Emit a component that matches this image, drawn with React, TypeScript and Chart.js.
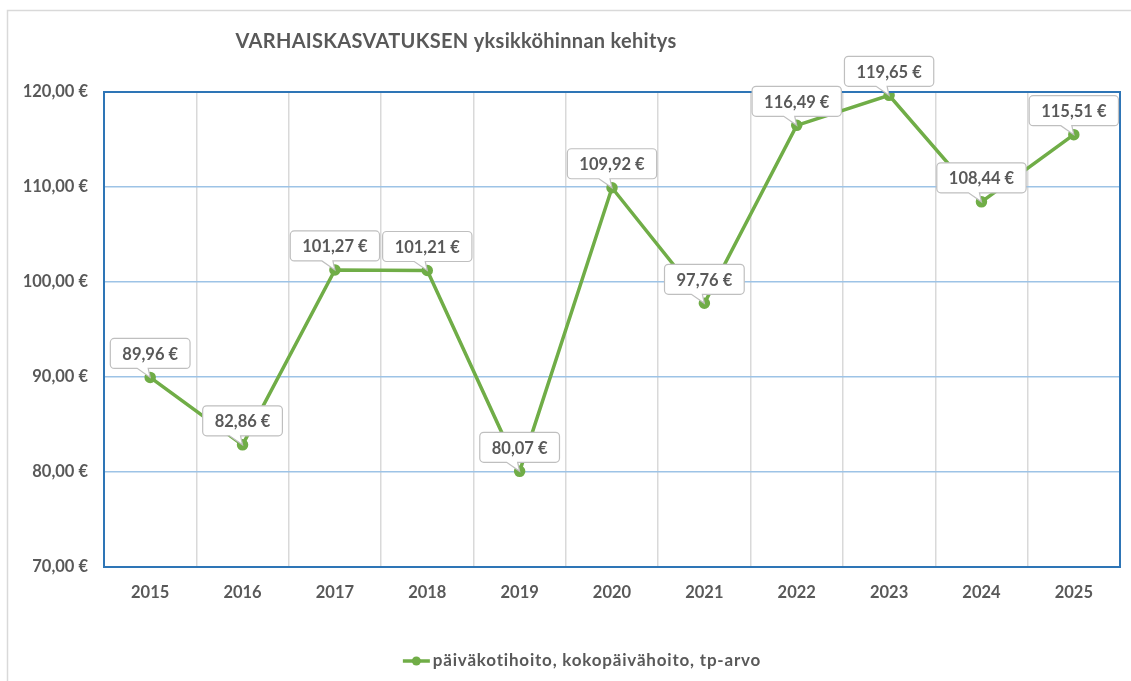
import React, { useEffect, useRef } from "react";
import { Chart, registerables } from "chart.js";

Chart.register(...registerables);

const years = ["2015", "2016", "2017", "2018", "2019", "2020", "2021", "2022", "2023", "2024", "2025"];
const unitPrices = [89.96, 82.86, 101.27, 101.21, 80.07, 109.92, 97.76, 116.49, 119.65, 108.44, 115.51];
const seriesName = "päiväkotihoito, kokopäivähoito, tp-arvo";
const chartTitle = "VARHAISKASVATUKSEN yksikköhinnan kehitys";

const FONT = "Lato, 'Open Sans', sans-serif";
const TEXT = "#595959";
const GREEN = "#70AD47";
const BLUE = "#2E75B6";

const fmt = (v: number) => v.toFixed(2).replace(".", ",") + " €";

const customPlugin = {
  id: "custom",
  beforeDraw(chart: any) {
    const ctx = chart.ctx;
    ctx.save();
    ctx.fillStyle = "#ffffff";
    ctx.fillRect(0, 0, chart.width, chart.height);
    ctx.strokeStyle = "#D9D9D9";
    ctx.lineWidth = 1.5;
    ctx.strokeRect(7.5, 10.5, chart.width + 20, chart.height + 20);
    ctx.restore();
  },
  afterDatasetsDraw(chart: any) {
    const ctx = chart.ctx;
    const ca = chart.chartArea;
    ctx.save();
    ctx.strokeStyle = BLUE;
    ctx.lineWidth = 2;
    ctx.strokeRect(ca.left, ca.top, ca.right - ca.left, ca.bottom - ca.top);
    ctx.restore();
  },
  afterDraw(chart: any) {
    const ctx = chart.ctx;
    ctx.save();
    // title
    ctx.fillStyle = TEXT;
    ctx.font = `bold 20px ${FONT}`;
    ctx.letterSpacing = "0.3px";
    ctx.textAlign = "center";
    ctx.textBaseline = "middle";
    ctx.fillText(chartTitle, 456, 42);
    ctx.letterSpacing = "0px";

    // callout labels
    const meta = chart.getDatasetMeta(0);
    ctx.font = `bold 16.5px ${FONT}`;
    meta.data.forEach((pt: any, i: number) => {
      const text = fmt(chart.data.datasets[0].data[i]);
      const w = ctx.measureText(text).width + 24;
      const h = 30;
      const px = pt.x;
      const py = pt.y;
      const cx = px;
      const bottom = py - 9;
      const top = bottom - h;
      const left = cx - w / 2;
      const r = 4;
      ctx.beginPath();
      ctx.moveTo(left + r, top);
      ctx.lineTo(left + w - r, top);
      ctx.arcTo(left + w, top, left + w, top + r, r);
      ctx.lineTo(left + w, bottom - r);
      ctx.arcTo(left + w, bottom, left + w - r, bottom, r);
      ctx.lineTo(px - 2, bottom);
      ctx.lineTo(px, py);
      ctx.lineTo(px - 13, bottom);
      ctx.lineTo(left + r, bottom);
      ctx.arcTo(left, bottom, left, bottom - r, r);
      ctx.lineTo(left, top + r);
      ctx.arcTo(left, top, left + r, top, r);
      ctx.closePath();
      ctx.fillStyle = "#ffffff";
      ctx.fill();
      ctx.strokeStyle = "#BFBFBF";
      ctx.lineWidth = 1.2;
      ctx.stroke();
      ctx.fillStyle = TEXT;
      ctx.textAlign = "center";
      ctx.textBaseline = "middle";
      ctx.fillText(text, cx, top + h / 2 + 1);
    });

    // legend
    ctx.font = `bold 17px ${FONT}`;
    ctx.letterSpacing = "0.8px";
    const lw = ctx.measureText(seriesName).width;
    const total = 27 + 3 + lw;
    const lx = 582 - total / 2;
    const ly = 661;
    ctx.strokeStyle = GREEN;
    ctx.lineWidth = 3.5;
    ctx.beginPath();
    ctx.moveTo(lx, ly);
    ctx.lineTo(lx + 27, ly);
    ctx.stroke();
    ctx.fillStyle = GREEN;
    ctx.beginPath();
    ctx.arc(lx + 13.5, ly, 4.5, 0, Math.PI * 2);
    ctx.fill();
    ctx.fillStyle = TEXT;
    ctx.textAlign = "left";
    ctx.textBaseline = "middle";
    ctx.fillText(seriesName, lx + 30, ly);
    ctx.restore();
  },
};

export default function App() {
  const ref = useRef<HTMLCanvasElement>(null);
  useEffect(() => {
    if (!ref.current) return;
    const chart = new Chart(ref.current, {
      type: "line",
      data: {
        labels: years,
        datasets: [
          {
            label: seriesName,
            data: unitPrices,
            borderColor: GREEN,
            backgroundColor: GREEN,
            borderWidth: 3.5,
            pointRadius: 4,
            pointBackgroundColor: GREEN,
            pointBorderColor: GREEN,
            tension: 0,
          },
        ],
      },
      options: {
        animation: false,
        responsive: false,
        layout: { padding: { top: 92, right: 11, left: 0, bottom: 0 } },
        plugins: {
          legend: { display: false },
          title: { display: false },
          tooltip: { enabled: false },
        },
        scales: {
          x: {
            offset: true,
            grid: { offset: true, color: "#D9D9D9", lineWidth: 1.5, drawTicks: false },
            border: { display: false },
            ticks: { color: TEXT, font: { family: FONT, size: 16.5, weight: "bold" }, padding: 16 },
            afterFit: (s: any) => {
              s.height = 114;
            },
          },
          y: {
            min: 70,
            max: 120,
            grid: { color: "#9DC3E6", lineWidth: 1.5, drawTicks: false },
            border: { display: false },
            ticks: {
              stepSize: 10,
              color: TEXT,
              padding: 16,
              font: { family: FONT, size: 16.5, weight: "bold" },
              callback: (v: any) => fmt(Number(v)),
            },
            afterFit: (s: any) => {
              s.width = 104;
            },
          },
        },
      },
      plugins: [customPlugin],
    });
    return () => chart.destroy();
  }, []);
  return (
    <div style={{ position: "fixed", left: 0, top: 0, width: 1131, height: 681, background: "#fff" }}>
      <canvas ref={ref} width={1131} height={681} />
    </div>
  );
}
